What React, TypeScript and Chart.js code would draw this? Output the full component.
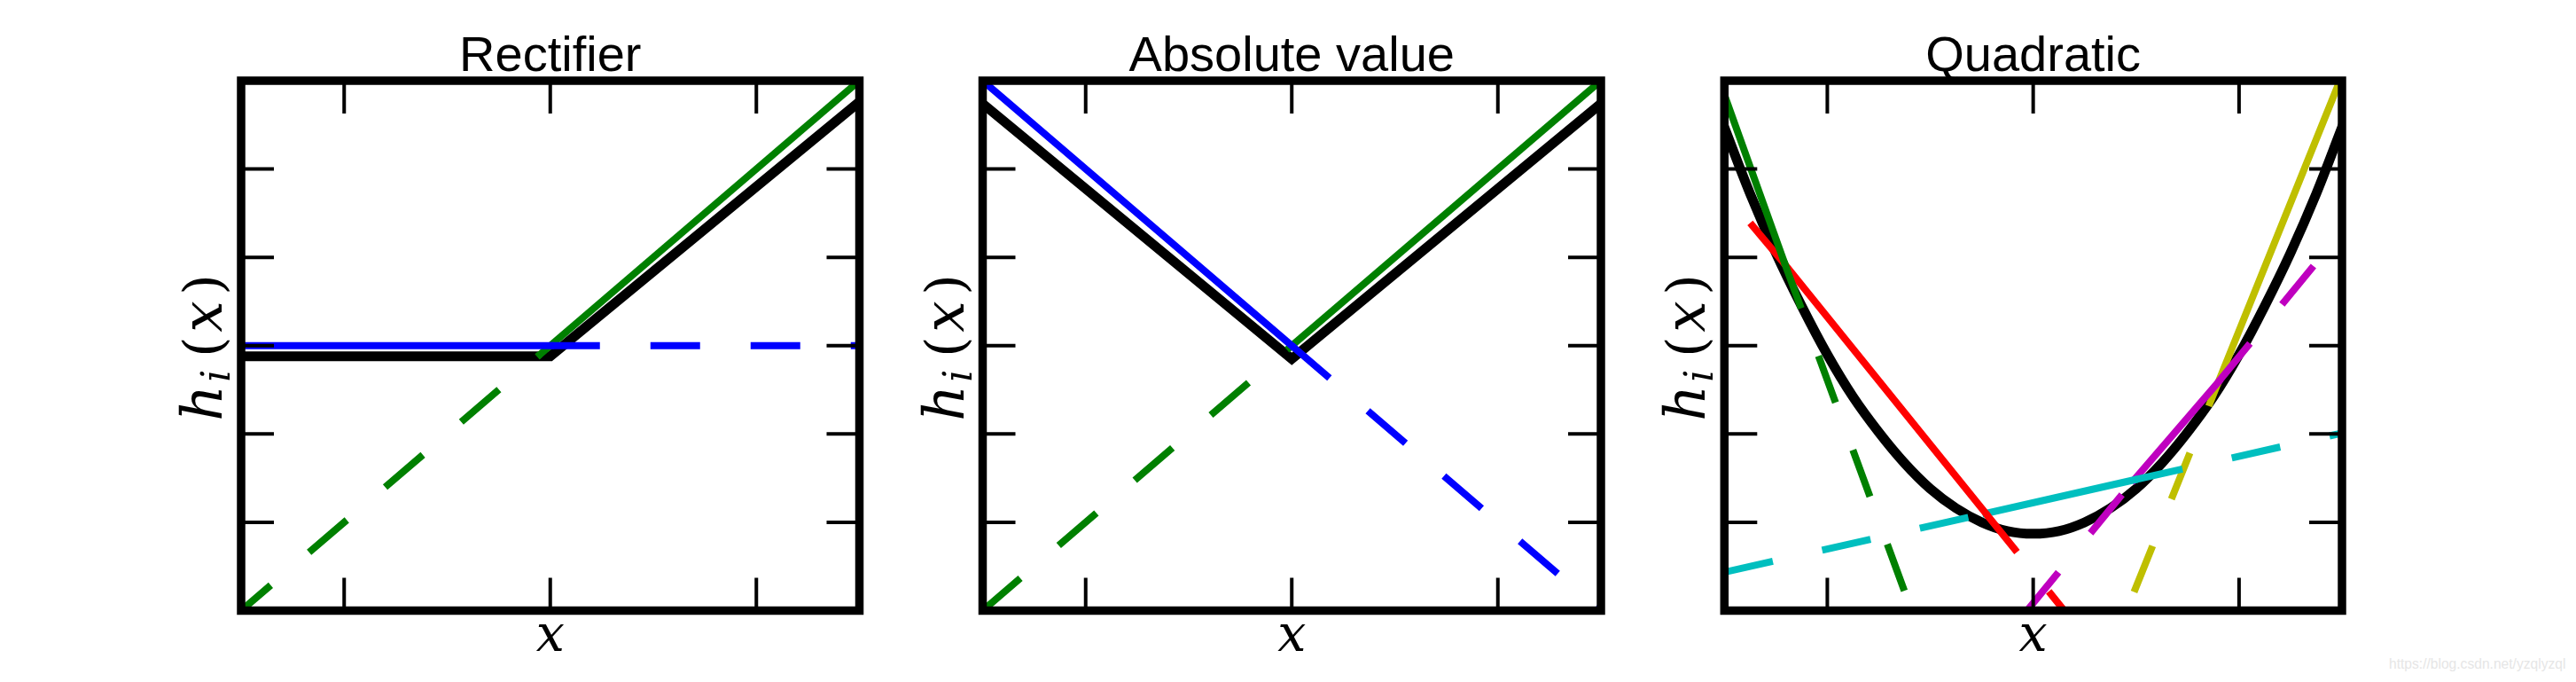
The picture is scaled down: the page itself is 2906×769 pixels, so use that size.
import React, { useEffect, useRef } from "react";
import { Chart, registerables } from "chart.js";

Chart.register(...registerables);

type P = [number, number];

// ---------- axes / text ----------
const axisMin = -3;
const axisMax = 3;
const xTickValues = [-2, 0, 2];
const yTickValues = [-2, -1, 0, 1, 2];
const panelTitles = ["Rectifier", "Absolute value", "Quadratic"];
const xAxisLabel = "x";
const yAxisLabelParts = ["h", "i", "(", "x", ")"];
const watermark = "https://blog.csdn.net/yzqlyzql";

// ---------- Rectifier ----------
const rectBlueSolid: P[] = [[-3, 0], [0, 0]];
const rectBlueDashed: P[] = [[0, 0], [3, 0]];
const rectGreenSolid: P[] = [[-0.1, -0.1], [3, 3]];
const rectGreenDashed: P[] = [[-3, -3], [-0.1, -0.1]];
const rectBlack: P[] = [[-3, -0.12], [0.0, -0.12], [3, 2.76]];

// ---------- Absolute value ----------
const absBlueSolid: P[] = [[-3, 3], [0, 0]];
const absBlueDashed: P[] = [[0, 0], [3, -3]];
const absGreenSolid: P[] = [[0, 0], [3, 3]];
const absGreenDashed: P[] = [[-3, -3], [0, 0]];
const absBlack: P[] = [[-3, 2.74], [0, -0.15], [3, 2.74]];

// ---------- Quadratic ----------
const quadGreenSolid: P[] = [[-3, 2.84], [-2.42, 0.95]];
const quadGreenDashed: P[] = [[-2.42, 0.95], [-1.15, -3.1]];
const quadRedDashedL: P[] = [[-2.75, 1.39], [-2.42, 0.93]];
const quadRedSolid: P[] = [[-2.42, 0.93], [-0.46, -1.9]];
const quadRedDashedR: P[] = [[-0.46, -1.9], [0.35, -3.07]];
const quadCyanDashedL: P[] = [[-3, -2.565], [-0.46, -1.9]];
const quadCyanSolid: P[] = [[-0.46, -1.9], [0.98, -1.52]];
const quadCyanDashedR: P[] = [[0.98, -1.52], [3, -0.99]];
const quadMagentaDashedL: P[] = [[-0.06, -3.0], [0.98, -1.52]];
const quadMagentaSolid: P[] = [[0.98, -1.52], [1.8, -0.41]];
const quadMagentaDashedR: P[] = [[1.8, -0.41], [2.75, 0.94]];
const quadYellowDashedL: P[] = [[0.98, -2.79], [1.8, -0.41]];
const quadYellowSolid: P[] = [[1.8, -0.41], [3, 3.06]];
const quadBlack: P[] = [
  [-3, 2.47], [-2.75, 1.72], [-2.5, 1.05], [-2.25, 0.45], [-2, -0.1],
  [-1.75, -0.58], [-1.5, -0.98], [-1.25, -1.33], [-1, -1.62], [-0.75, -1.84],
  [-0.5, -2.0], [-0.25, -2.1], [0, -2.13], [0.25, -2.1], [0.5, -2.0],
  [0.75, -1.84], [1, -1.62], [1.25, -1.33], [1.5, -0.98], [1.75, -0.58],
  [2, -0.1], [2.25, 0.45], [2.5, 1.05], [2.75, 1.72], [3, 2.47],
];

// ---------- styles ----------
const C = {
  b: "#0000ff",
  g: "#008000",
  r: "#ff0000",
  c: "#00bfbf",
  m: "#bf00bf",
  y: "#bfbf00",
  k: "#000000",
};
const DASH = [56, 57];
const COLOR_W = 8;
const BLACK_W = 11;

type Seg = { pts: P[]; color: string; dashed?: boolean; offset?: number; width?: number; smooth?: boolean };

const panelSegs: Seg[][] = [
  [
    { pts: rectBlueSolid, color: C.b },
    { pts: rectBlueDashed, color: C.b, dashed: true },
    { pts: rectGreenSolid, color: C.g },
    { pts: rectGreenDashed, color: C.g, dashed: true, offset: 12 },
    { pts: rectBlack, color: C.k, width: BLACK_W },
  ],
  [
    { pts: absBlueSolid, color: C.b },
    { pts: absBlueDashed, color: C.b, dashed: true },
    { pts: absGreenSolid, color: C.g },
    { pts: absGreenDashed, color: C.g, dashed: true },
    { pts: absBlack, color: C.k, width: BLACK_W },
  ],
  [
    { pts: quadGreenSolid, color: C.g },
    { pts: quadGreenDashed, color: C.g, dashed: true },
    { pts: quadRedDashedL, color: C.r, dashed: true },
    { pts: quadRedSolid, color: C.r },
    { pts: quadRedDashedR, color: C.r, dashed: true },
    { pts: quadCyanDashedL, color: C.c, dashed: true },
    { pts: quadCyanSolid, color: C.c },
    { pts: quadCyanDashedR, color: C.c, dashed: true },
    { pts: quadMagentaDashedL, color: C.m, dashed: true },
    { pts: quadMagentaSolid, color: C.m },
    { pts: quadMagentaDashedR, color: C.m, dashed: true },
    { pts: quadYellowDashedL, color: C.y, dashed: true },
    { pts: quadYellowSolid, color: C.y },
    { pts: quadBlack, color: C.k, width: BLACK_W, smooth: true },
  ],
];

// ---------- layout (pixels) ----------
const PAGE_W = 2906;
const PAGE_H = 769;
const CANVAS_W = 836;
const canvasLefts = [160, 996, 1832];
const plotLefts = [272, 1108.5, 1945.3];
const plotRights = [969.5, 1806, 2642];
const PLOT_TOP = 91;
const PLOT_BOTTOM = 688.5;
const SPINE_W = 9.5;
const TICK_LEN = 37;
const TICK_W = 4;

// y-label glyph placement along the (rotated) text direction
const yLabelFonts = [
  'italic 63px "DejaVu Serif", serif',
  'italic 44px "DejaVu Serif", serif',
  '60px "DejaVu Serif", serif',
  'italic 63px "DejaVu Serif", serif',
  '60px "DejaVu Serif", serif',
];
const yLabelStarts = [0, 44, 72, 100, 142];
const yLabelShift = [0, 9, 0, 0, 0];
const Y_LABEL_LEN = 166;

const decorPlugin = (idx: number) => ({
  id: "decor" + idx,
  afterDraw(chart: any) {
    const ctx: CanvasRenderingContext2D = chart.ctx;
    const a = chart.chartArea;
    const xs = chart.scales.x;
    const ys = chart.scales.y;
    ctx.save();
    // ticks (inward, all four sides)
    ctx.strokeStyle = "#000";
    ctx.lineWidth = TICK_W;
    ctx.lineCap = "butt";
    ctx.beginPath();
    for (const v of xTickValues) {
      const px = xs.getPixelForValue(v);
      ctx.moveTo(px, a.bottom);
      ctx.lineTo(px, a.bottom - TICK_LEN);
      ctx.moveTo(px, a.top);
      ctx.lineTo(px, a.top + TICK_LEN);
    }
    for (const v of yTickValues) {
      const py = ys.getPixelForValue(v);
      ctx.moveTo(a.left, py);
      ctx.lineTo(a.left + TICK_LEN, py);
      ctx.moveTo(a.right, py);
      ctx.lineTo(a.right - TICK_LEN, py);
    }
    ctx.stroke();
    // frame
    ctx.lineWidth = SPINE_W;
    ctx.lineJoin = "miter";
    ctx.strokeRect(a.left, a.top, a.right - a.left, a.bottom - a.top);

    const cx = (a.left + a.right) / 2;
    const cy = (a.top + a.bottom) / 2;
    ctx.fillStyle = "#000";
    // title
    ctx.font = '56px "Liberation Sans", Arial, sans-serif';
    ctx.textAlign = "center";
    ctx.textBaseline = "alphabetic";
    ctx.fillText(panelTitles[idx], cx, 80);
    // x label
    ctx.font = 'italic 57px "DejaVu Serif", serif';
    ctx.fillText(xAxisLabel, cx, 734);
    // y label (rotated)
    ctx.translate(a.left - 22, cy + 2);
    ctx.rotate(-Math.PI / 2);
    ctx.textAlign = "left";
    yAxisLabelParts.forEach((t, i) => {
      ctx.font = yLabelFonts[i];
      ctx.fillText(t, -Y_LABEL_LEN / 2 + yLabelStarts[i], yLabelShift[i]);
    });
    ctx.restore();
  },
});

function Panel({ idx }: { idx: number }) {
  const ref = useRef<HTMLCanvasElement | null>(null);
  useEffect(() => {
    if (!ref.current) return;
    const left = canvasLefts[idx];
    const datasets = panelSegs[idx].map((s) => ({
      data: s.pts.map(([x, y]) => ({ x, y })),
      borderColor: s.color,
      backgroundColor: s.color,
      borderWidth: s.width ?? COLOR_W,
      borderDash: s.dashed ? DASH : [],
      borderDashOffset: s.offset ?? 0,
      borderCapStyle: s.dashed ? "butt" : "square",
      borderJoinStyle: "miter",
      pointRadius: 0,
      pointHoverRadius: 0,
      tension: s.smooth ? 0.35 : 0,
      fill: false,
      clip: 0,
    }));
    const chart = new Chart(ref.current, {
      type: "line",
      data: { datasets } as any,
      options: {
        animation: false,
        responsive: false,
        devicePixelRatio: 1,
        events: [],
        layout: {
          padding: {
            left: plotLefts[idx] - left,
            right: left + CANVAS_W - plotRights[idx],
            top: PLOT_TOP,
            bottom: PAGE_H - PLOT_BOTTOM,
          },
        },
        plugins: {
          legend: { display: false },
          tooltip: { enabled: false },
          title: { display: false },
        },
        scales: {
          x: { type: "linear", min: axisMin, max: axisMax, display: false },
          y: { type: "linear", min: axisMin, max: axisMax, display: false },
        },
      } as any,
      plugins: [decorPlugin(idx)],
    });
    return () => chart.destroy();
  }, [idx]);
  return (
    <canvas
      ref={ref}
      width={CANVAS_W}
      height={PAGE_H}
      style={{
        position: "absolute",
        left: canvasLefts[idx],
        top: 0,
        width: CANVAS_W,
        height: PAGE_H,
      }}
    />
  );
}

export default function App() {
  return (
    <div
      style={{
        position: "absolute",
        left: 0,
        top: 0,
        width: PAGE_W,
        height: PAGE_H,
        background: "#fff",
        overflow: "hidden",
      }}
    >
      <Panel idx={0} />
      <Panel idx={1} />
      <Panel idx={2} />
      <div
        style={{
          position: "absolute",
          left: 2695,
          top: 740,
          fontFamily: '"Liberation Sans", Arial, sans-serif',
          fontSize: 15.6,
          color: "#e6e6e6",
          whiteSpace: "nowrap",
        }}
      >
        {watermark}
      </div>
    </div>
  );
}
